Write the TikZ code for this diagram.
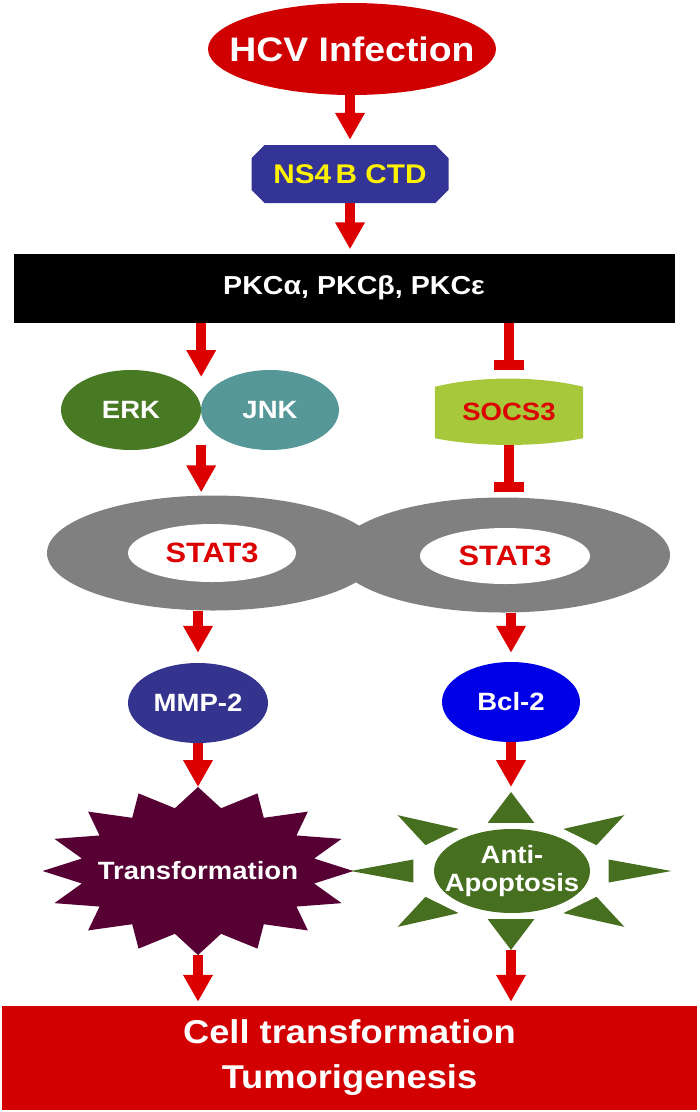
\documentclass[tikz,border=0pt]{standalone}
\usepackage{fontspec}
\setmainfont[FakeStretch=1.1]{Liberation Sans}
\usetikzlibrary{arrows.meta,positioning,shapes.geometric,shapes.misc,backgrounds,calc}

\definecolor{hcvred}{RGB}{208,0,0}
\definecolor{arrowred}{RGB}{220,0,0}
\definecolor{nsblue}{RGB}{52,52,150}
\definecolor{erkgreen}{RGB}{72,122,36}
\definecolor{jnkteal}{RGB}{86,152,152}
\definecolor{socsgreen}{RGB}{166,200,58}
\definecolor{ringgray}{RGB}{128,128,128}
\definecolor{mmpblue}{RGB}{52,52,142}
\definecolor{bclblue}{RGB}{0,0,230}
\definecolor{transplum}{RGB}{86,0,52}
\definecolor{sungreen}{RGB}{70,112,32}
\definecolor{boxred}{RGB}{210,0,0}

\begin{document}
\begin{tikzpicture}[
  x=1pt, y=-1pt,
  lbl/.style={font=\bfseries\fontsize{25}{28}\selectfont, inner sep=0pt, align=center},
  blob/.style={lbl, ellipse},
  arr/.style={draw=arrowred, line width=10pt, -{Triangle[width=28pt,length=27pt]}},
  inhib/.style={draw=arrowred, line width=10pt, -{Rectangle[width=30pt,length=10pt]}}
]
\useasboundingbox (0,0) rectangle (700,1112);

% top of the cascade
\node[blob, fill=hcvred, text=white, inner xsep=-25pt, minimum width=288pt, minimum height=92pt,
  font=\bfseries\fontsize{34}{40}\selectfont] (hcv) at (352,49) {HCV Infection};
\node[lbl, chamfered rectangle, chamfered rectangle xsep=12pt, fill=nsblue, text=yellow,
  minimum width=197pt, minimum height=58pt, font=\bfseries\fontsize{27}{30}\selectfont] (ns4b) at (350,174) {NS4\,B CTD};
\node[lbl, fill=black, text=white, minimum width=661pt, minimum height=69pt,
  font=\bfseries\fontsize{26}{28}\selectfont] (pkc) at (344,288) {\hspace*{20pt}PKCα, PKCβ, PKCε};

% kinases and SOCS3
\node[blob, fill=erkgreen, text=white, minimum width=140pt, minimum height=80pt] (erk) at (131,410) {ERK};
\node[blob, fill=jnkteal, text=white, minimum width=138pt, minimum height=80pt] (jnk) at (270,410) {JNK};
\coordinate (mapk) at (erk.east);
\node[lbl, minimum width=148pt, minimum height=66pt, text=arrowred] (socs) at (509,412) {SOCS3};
\begin{scope}[on background layer]
  \fill[socsgreen] ([yshift=-8pt]socs.north west) -- ([yshift=7pt]socs.south west)
    .. controls +(45,9) and +(-45,9) .. ([yshift=7pt]socs.south east)
    -- ([yshift=-8pt]socs.north east)
    .. controls +(-45,-11) and +(45,-11) .. ([yshift=-8pt]socs.north west) -- cycle;
\end{scope}

% STAT3 dimer
\node[blob, fill=ringgray, minimum width=332pt, minimum height=115pt] (ringL) at (213,553) {};
\node[blob, fill=ringgray, minimum width=334pt, minimum height=115pt] (ringR) at (503,555) {};
\node[blob, fill=white, text=arrowred, minimum width=168pt, minimum height=58pt,
  font=\bfseries\fontsize{28}{30}\selectfont] (statL) at (212,553) {STAT3};
\node[blob, fill=white, text=arrowred, minimum width=170pt, minimum height=56pt,
  font=\bfseries\fontsize{28}{30}\selectfont] (statR) at (505,556) {STAT3};

% targets
\node[blob, fill=mmpblue, text=white, minimum width=140pt, minimum height=80pt] (mmp) at (198,703) {MMP-2};
\node[blob, fill=bclblue, text=white, minimum width=138pt, minimum height=80pt] (bcl) at (511,702) {Bcl-2};

% outcomes
\fill[transplum, shift={(198,871)}, xscale=1.85] (90:84)
  \foreach \i in {1,...,31} { -- ({90+\i*11.25}:{74+10*cos(\i*180)}) } -- cycle;
\node[lbl, text=white] (trans) at (198,871) {Transformation};
\coordinate (transN) at (198,787);
\coordinate (transS) at (198,955);

\foreach \a in {0,45,...,315}
  \fill[sungreen, shift={(511,871)}, xscale=2.03] (\a:79) -- ({\a+13.5}:49.4) -- ({\a-13.5}:49.4) -- cycle;
\node[blob, fill=sungreen, text=white, inner xsep=-25pt, minimum width=156pt, minimum height=84pt] (anti) at (512,871) {Anti-\\Apoptosis};
\coordinate (sunN) at (511,792);
\coordinate (sunS) at (511,950);

\node[lbl, fill=boxred, text=white, minimum width=695pt, minimum height=104pt,
  font=\bfseries\fontsize{33}{45}\selectfont] (out) at (349.5,1058) {Cell transformation\\Tumorigenesis};

% connectors
\draw[arr, shorten >=5pt] (hcv.south -| ns4b) -- (ns4b.north);
\draw[arr, shorten >=4pt] (ns4b.south) -- (ns4b.south |- pkc.north);
\draw[arr, shorten >=33pt] (pkc.south -| mapk) -- (mapk);
\draw[inhib, shorten >=9pt] (pkc.south -| socs) -- (socs);
\draw[arr, shorten <=35pt, shorten >=3pt] (mapk) -- (mapk |- ringL.north);
\draw[inhib, shorten >=5pt] (socs) -- (socs |- ringR.north);
\draw[arr, shorten >=10pt] (ringL.south -| mmp) -- (mmp);
\draw[arr, shorten >=9pt] (ringR.south -| bcl) -- (bcl);
\draw[arr] (mmp) -- (transN);
\draw[arr, shorten >=5pt] (bcl) -- (sunN);
\draw[arr, shorten >=4pt] (transS) -- (transS |- out.north);
\draw[arr, shorten >=4pt] (sunS) -- (sunS |- out.north);

\end{tikzpicture}
\end{document}
